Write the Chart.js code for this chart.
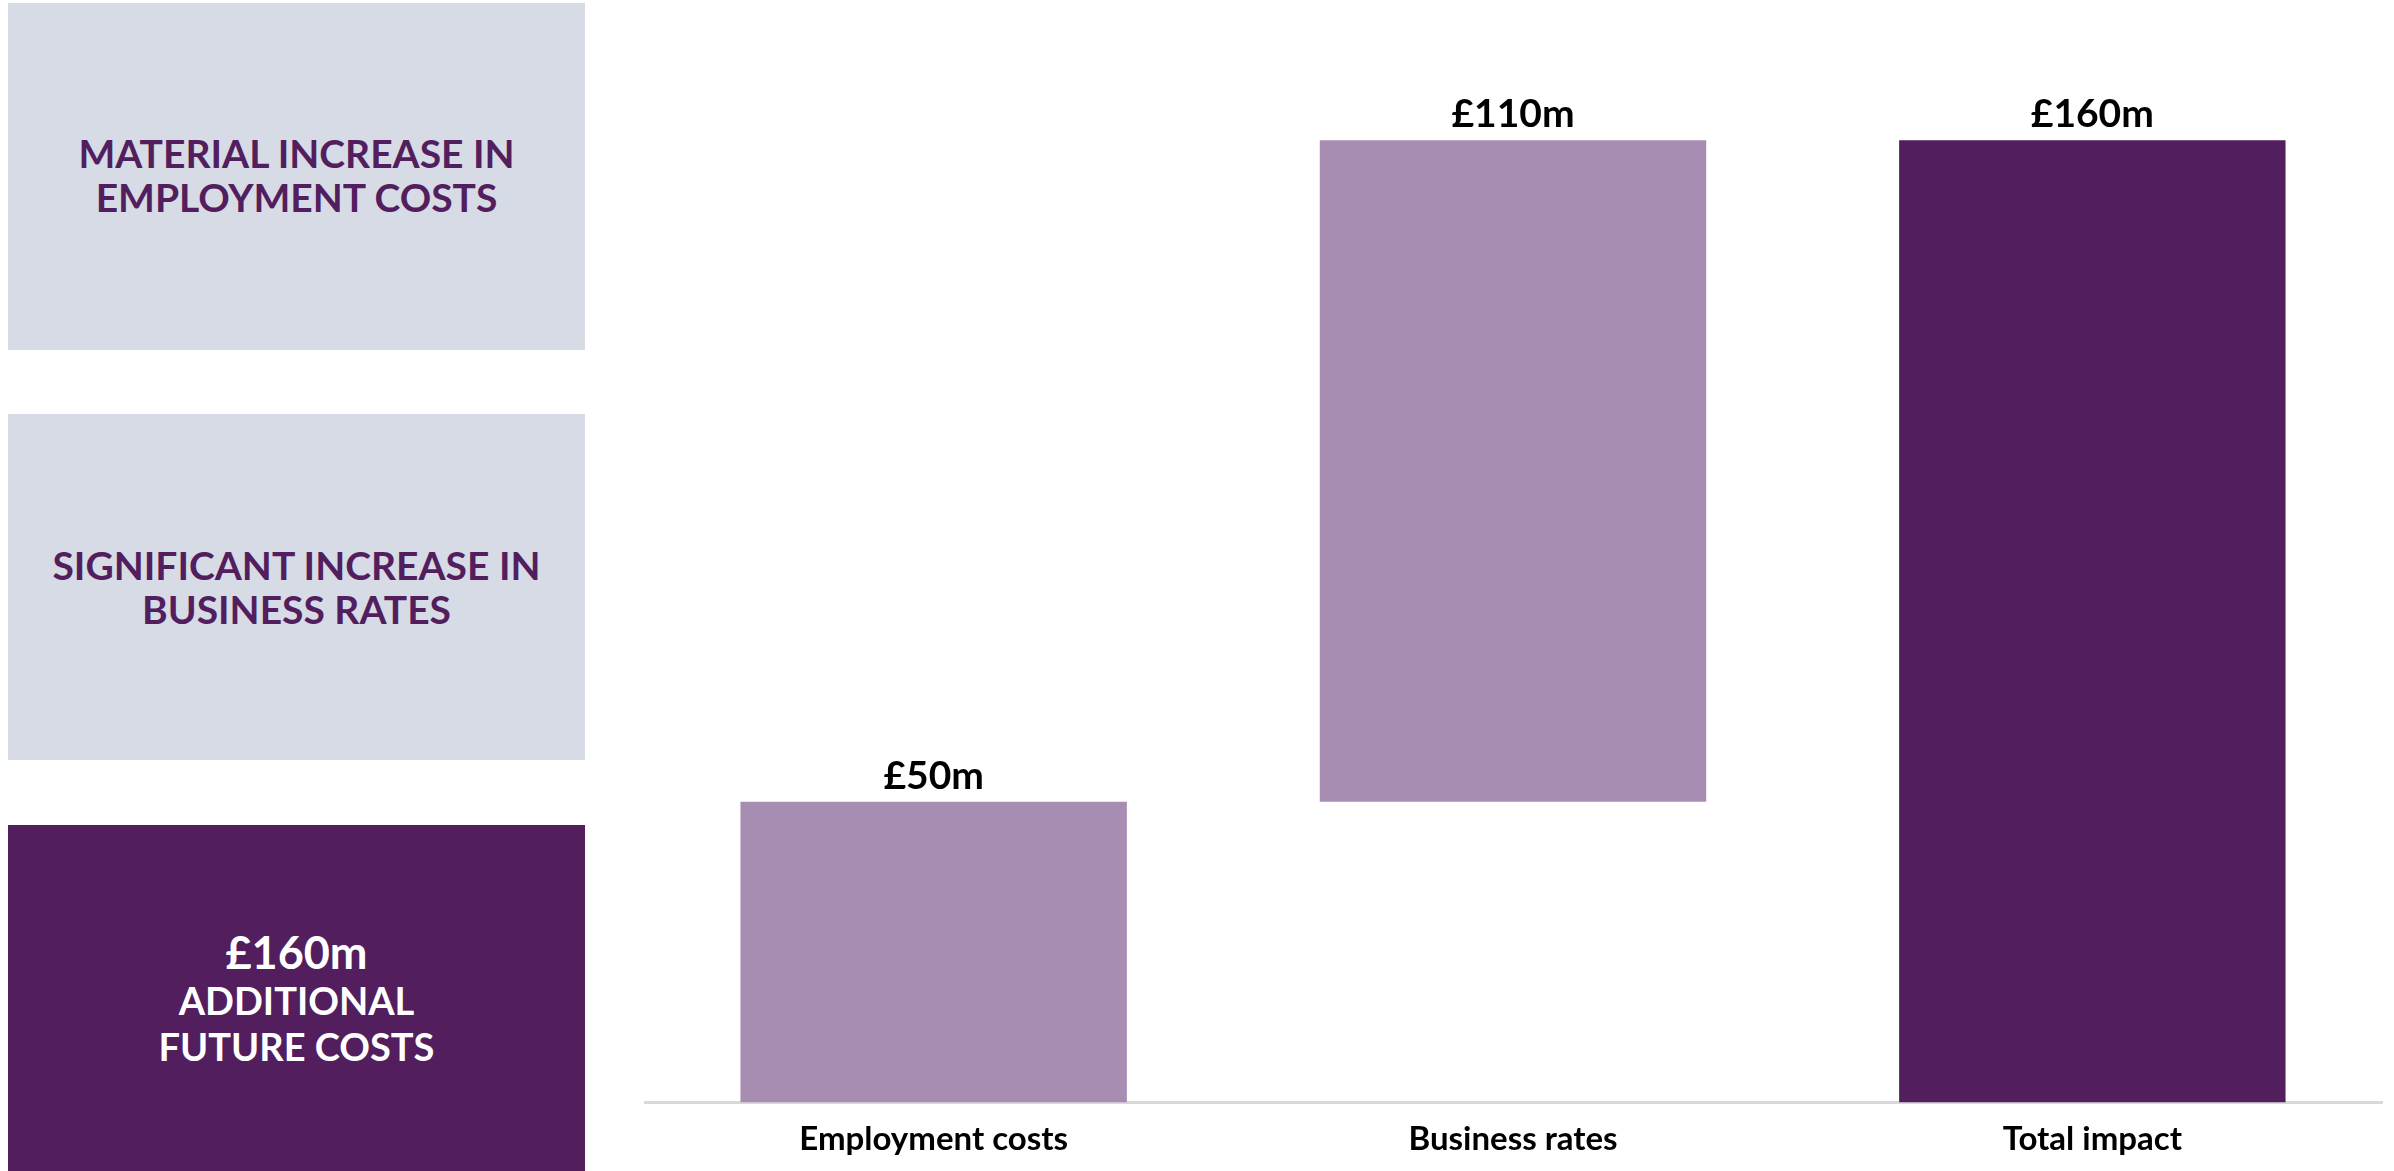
<!DOCTYPE html>
<html>
<head>
<meta charset="utf-8">
<script src="https://cdn.jsdelivr.net/npm/chart.js@4"></script>
<style>
  body { margin: 0; width: 2394px; height: 1171px; background: #fff; overflow: hidden; position: relative; font-family: Lato, "Open Sans", sans-serif; }
  .box { position: absolute; left: 8px; width: 577px; display: flex; flex-direction: column; justify-content: center; align-items: center; text-align: center; font-weight: 700; }
  .light { background: #d6dbe5; color: #521e5e; font-size: 39px; line-height: 44px; }
  .dark { background: #521e5e; color: #fff; font-size: 38px; line-height: 46px; }
  .dark .big { font-size: 45px; line-height: 50px; }
  #wrap { position: absolute; left: 644px; top: 0; width: 1750px; height: 1176px; }
</style>
</head>
<body>
<div class="box light" style="top:3px;height:347px;padding-bottom:4px;box-sizing:border-box">MATERIAL INCREASE IN<br>EMPLOYMENT COSTS</div>
<div class="box light" style="top:414px;height:346px">SIGNIFICANT INCREASE IN<br>BUSINESS RATES</div>
<div class="box dark" style="top:825px;height:346px"><span class="big">£160m</span>ADDITIONAL<br>FUTURE COSTS</div>
<div id="wrap"><canvas id="costChart"></canvas></div>
<script>
const categories = ['Employment costs', 'Business rates', 'Total impact'];
const barBase = [0, 50, 0];
const barValue = [50, 110, 160];
const valueLabels = ['£50m', '£110m', '£160m'];
const barColors = ['#a78db2', '#a78db2', '#521e5e'];

// floating bars: [start, end]
const floating = barBase.map((b, i) => [b, b + barValue[i]]);

const topLabels = {
  id: 'topLabels',
  afterDatasetsDraw(chart) {
    const ctx = chart.ctx;
    const meta = chart.getDatasetMeta(0);
    ctx.save();
    ctx.font = 'bold 39px Lato, "Open Sans", sans-serif';
    ctx.fillStyle = '#000';
    ctx.textAlign = 'center';
    ctx.textBaseline = 'bottom';
    meta.data.forEach((bar, i) => {
      const p = bar.getProps(['x', 'y', 'base'], true);
      ctx.fillText(valueLabels[i], p.x, Math.min(p.y, p.base) - 6);
    });
    ctx.restore();
  }
};

new Chart('costChart', {
  type: 'bar',
  data: {
    labels: categories,
    datasets: [{
      data: floating,
      backgroundColor: barColors,
      borderWidth: 0,
      categoryPercentage: 1,
      barPercentage: 0.667
    }]
  },
  options: {
    responsive: true,
    maintainAspectRatio: false,
    animation: false,
    layout: { padding: { top: 20, right: 12, bottom: 0, left: 0 } },
    plugins: { legend: { display: false }, tooltip: { enabled: false } },
    scales: {
      x: {
        grid: { display: false, drawTicks: false },
        border: { display: true, color: '#d9d9d9', width: 3 },
        ticks: { color: '#000', padding: 17, font: { family: 'Lato, "Open Sans", sans-serif', size: 33, weight: 'bold' } }
      },
      y: {
        display: false,
        min: 0,
        max: 180
      }
    }
  },
  plugins: [topLabels]
});
</script>
</body>
</html>
